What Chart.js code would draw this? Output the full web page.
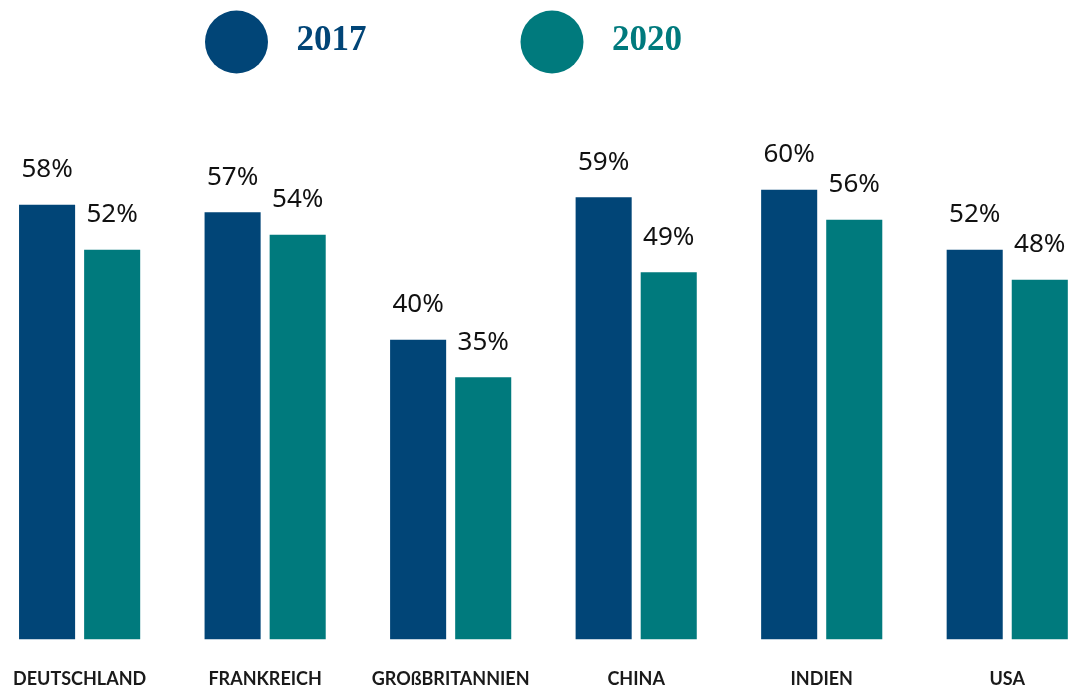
<!DOCTYPE html>
<html>
<head>
<meta charset="utf-8">
<script src="https://cdn.jsdelivr.net/npm/chart.js@4"></script>
<style>
    html, body { margin: 0; padding: 0; background: #fff; overflow: hidden; }
    #wrap { position: absolute; left: -16px; top: 0; width: 1116px; height: 719px; }
</style>
</head>
<body>
<div id="wrap"><canvas id="canvas"></canvas></div>
<script>
var countries = ['DEUTSCHLAND', 'FRANKREICH', 'GROßBRITANNIEN', 'CHINA', 'INDIEN', 'USA'];
var values2017 = [58, 57, 40, 59, 60, 52];
var values2020 = [52, 54, 35, 49, 56, 48];
var seriesNames = ['2017', '2020'];

var navy = '#014577';
var teal = '#007a7d';

// big round legend at the top
var topLegend = {
    id: 'topLegend',
    afterDraw: function (chart) {
        var ctx = chart.ctx;
        var spots = [252.5, 568];
        ctx.save();
        chart.data.datasets.forEach(function (ds, i) {
            ctx.fillStyle = ds.backgroundColor;
            ctx.beginPath();
            ctx.arc(spots[i], 42, 31.5, 0, Math.PI * 2);
            ctx.fill();
            ctx.font = 'bold 35px "Liberation Serif"';
            ctx.textAlign = 'left';
            ctx.textBaseline = 'middle';
            ctx.fillText(ds.label, spots[i] + 60, 41);
        });
        ctx.restore();
    }
};

// percent labels above the bars
var valueLabels = {
    id: 'valueLabels',
    afterDatasetsDraw: function (chart) {
        var ctx = chart.ctx;
        ctx.save();
        ctx.font = '26px "Noto Sans"';
        ctx.fillStyle = '#111';
        ctx.textAlign = 'center';
        ctx.textBaseline = 'middle';
        chart.data.datasets.forEach(function (ds, i) {
            chart.getDatasetMeta(i).data.forEach(function (bar, j) {
                ctx.fillText(ds.data[j] + '%', bar.x, bar.y - 35);
            });
        });
        ctx.restore();
    }
};

var ctx = document.getElementById('canvas').getContext('2d');
var myChart = new Chart(ctx, {
    type: 'bar',
    data: {
        labels: countries,
        datasets: [
            { label: seriesNames[0], data: values2017, backgroundColor: navy },
            { label: seriesNames[1], data: values2020, backgroundColor: teal }
        ]
    },
    options: {
        responsive: true,
        maintainAspectRatio: false,
        animation: false,
        datasets: { bar: { barPercentage: 0.8615, categoryPercentage: 0.7016 } },
        layout: { padding: { top: 40, bottom: 0, left: 0, right: 0 } },
        plugins: {
            legend: { display: false },
            tooltip: { enabled: false }
        },
        scales: {
            x: {
                grid: { display: false, drawTicks: false },
                border: { display: false },
                ticks: {
                    padding: 29,
                    color: '#1a1a1a',
                    font: { family: 'Lato', weight: 'bold', size: 18 }
                }
            },
            y: {
                display: false,
                min: 0,
                max: 80
            }
        }
    },
    plugins: [topLegend, valueLabels]
});
</script>
</body>
</html>
